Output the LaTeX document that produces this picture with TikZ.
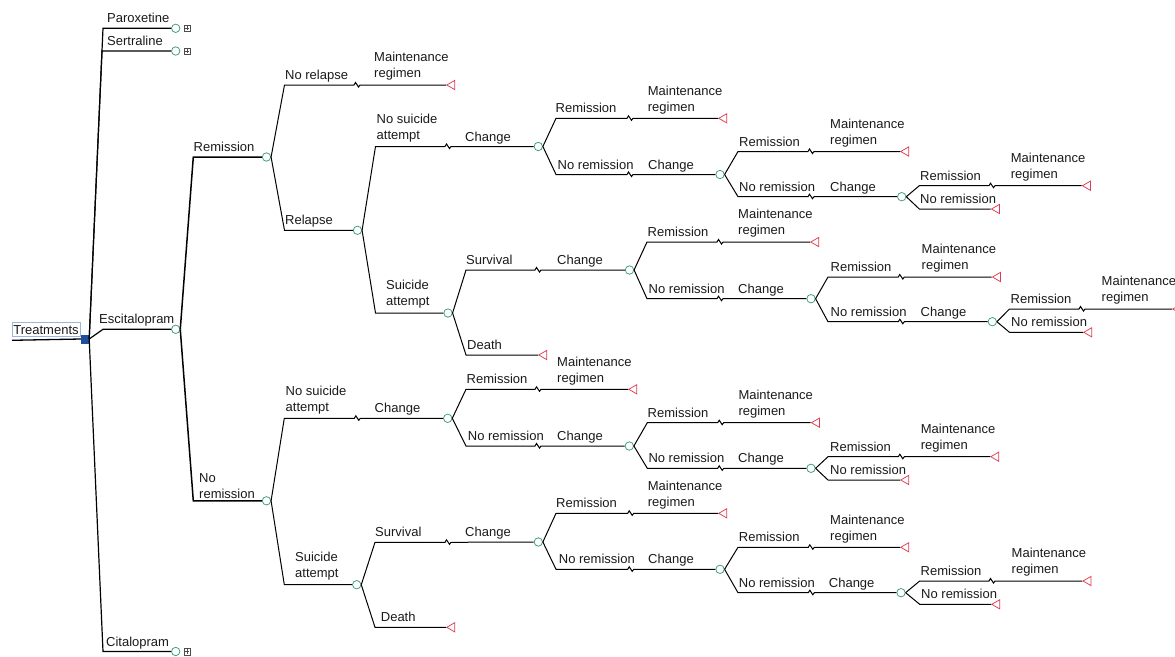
\documentclass[tikz,border=0pt]{standalone}
\usepackage{fontspec}
\setmainfont{Liberation Sans}
\usetikzlibrary{shapes.geometric}
\definecolor{chancec}{HTML}{3D9A7A}
\definecolor{termc}{HTML}{E03C50}
\definecolor{decc}{HTML}{1F4E9E}
\definecolor{tboxc}{HTML}{9AB5E0}
\definecolor{txtc}{HTML}{1A1A1A}
\newcommand\twol[2]{\begin{tabular}[b]{@{}l@{}}#1\\#2\end{tabular}}
\newcommand\brP[4]{\draw[conn] (#1.east) -- (#2,#3) -- (#4);}
\newcommand\brS[5]{\draw[conn] (#1.east) -- (#2,#3) -- ({#4-4},#3) -- ({#4-2.5},{#3-2.5}) -- ({#4+0.5},{#3+2}) -- ({#4+2},#3) -- (#5);}
\tikzset{
  conn/.style={line width=1pt, black},
  boldconn/.style={line width=1.5pt, black},
  trunk/.style={line width=1.2pt, black},
  chance/.style={circle, draw=chancec, fill=white, minimum size=8.4pt, inner sep=0pt, line width=0.75pt},
  term/.style={isosceles triangle, isosceles triangle apex angle=60, shape border rotate=180, draw=termc, fill=white, inner sep=0pt, minimum size=8pt, line width=0.75pt, anchor=apex},
  dec/.style={rectangle, fill=decc, draw=decc, minimum size=8pt, inner sep=0pt},
  plusb/.style={rectangle, draw=black!70, fill=white, minimum size=6.5pt, inner sep=0pt, line width=0.5pt,
    path picture={\draw[black!70, line width=0.5pt] ([xshift=1.2pt]path picture bounding box.west) -- ([xshift=-1.2pt]path picture bounding box.east) ([yshift=-1.2pt]path picture bounding box.north) -- ([yshift=1.2pt]path picture bounding box.south);}},
  lbl/.style={anchor=base west, inner sep=0pt, yshift=-1pt, text=txtc, font=\fontsize{13}{16}\selectfont},
  tbox/.style={rectangle, draw=tboxc, line width=0.7pt, inner xsep=1.5pt, inner ysep=0.5pt, minimum height=14pt, text=txtc, font=\fontsize{13}{16}\selectfont}
}
\begin{document}
\begin{tikzpicture}[x=1pt,y=-1pt]
\useasboundingbox (0,0) rectangle (1175,656);
\clip (0,0) rectangle (1175,656);
% root
\node[dec] (root) at (85,339) {};
\node[tbox] (treat) at (46,329.7) {Treatments};
\coordinate (ul) at (12,340.3);
\draw[line width=1.3pt] (ul) -- (root.west);
% treatments
\node[chance] (par) at (175.7,28.3) {};
\node[chance] (ser) at (175.7,51) {};
\node[chance] (esc) at (175.7,329.3) {};
\node[chance] (cit) at (175.7,651.5) {};
\node[plusb] (pp) at (187.2,28.3) {};
\node[plusb] (ps) at (187.2,51) {};
\node[plusb] (pc) at (187.2,651.5) {};
% chance nodes
\node[chance] (rem) at (266.5,157) {};
\node[chance] (nrem) at (266.5,500.8) {};
\node[chance] (rel) at (357.5,230.3) {};
\node[chance] (a1) at (538.3,146.5) {};
\node[chance] (sa1) at (448,313) {};
\node[chance] (a2) at (720,174.5) {};
\node[chance] (a3) at (901.7,196.7) {};
\node[chance] (b1) at (629.5,270) {};
\node[chance] (b2) at (811,298.7) {};
\node[chance] (b3) at (992.3,321.7) {};
\node[chance] (c1) at (447.7,418.3) {};
\node[chance] (sa2) at (356.7,584.7) {};
\node[chance] (c2) at (629.3,446) {};
\node[chance] (c3) at (811,468.3) {};
\node[chance] (d1) at (538.3,542) {};
\node[chance] (d2) at (720,569.3) {};
\node[chance] (d3) at (901,592.7) {};
% terminal nodes
\node[term] (t1) at (446,85) {};
\node[term] (t2) at (718,118.3) {};
\node[term] (t3) at (900,151.5) {};
\node[term] (t4) at (1081.7,185.7) {};
\node[term] (t5) at (990.7,209) {};
\node[term] (t6) at (538,355) {};
\node[term] (t7) at (810,242) {};
\node[term] (t8) at (991.7,277) {};
\node[term] (t9) at (1172,309) {};
\node[term] (t10) at (1083,332.3) {};
\node[term] (t11) at (628,389.3) {};
\node[term] (t12) at (810.7,422.7) {};
\node[term] (t13) at (990,456.7) {};
\node[term] (t14) at (900,480) {};
\node[term] (t15) at (446,627.3) {};
\node[term] (t16) at (718,513.3) {};
\node[term] (t17) at (900,547.3) {};
\node[term] (t18) at (1082.3,581) {};
\node[term] (t19) at (991,604.3) {};
% trunk connectors
\draw[trunk] (root.east) -- (103,28.3) -- (par);
\draw[trunk] (root.east) -- (102,51) -- (ser);
\draw[trunk] (root.east) -- (103,329.3) -- (esc);
\draw[trunk] (root.east) -- (103,651.5) -- (cit);
\draw[boldconn] (esc.east) -- (193.3,157) -- (rem);
\draw[boldconn] (esc.east) -- (193.3,500.8) -- (nrem);
% branches
\brS{rem}{284.5}{85}{358}{t1}
\brP{rem}{284.5}{230.3}{rel}
\brS{rel}{375.5}{146.5}{449}{a1}
\brP{rel}{375.5}{313}{sa1}
\brS{a1}{556}{118.3}{631}{t2}
\brS{a1}{556}{174.5}{631}{a2}
\brS{a2}{738}{151.5}{812}{t3}
\brS{a2}{738}{196.7}{812}{a3}
\brS{a3}{919.3}{185.7}{993}{t4}
\brP{a3}{919.3}{209}{t5}
\brS{sa1}{466}{270}{539}{b1}
\brP{sa1}{466}{355}{t6}
\brS{b1}{647}{242}{721}{t7}
\brS{b1}{647}{298.7}{721}{b2}
\brS{b2}{828}{277}{902.3}{t8}
\brS{b2}{828}{321.7}{902.3}{b3}
\brS{b3}{1009.5}{309}{1083}{t9}
\brP{b3}{1009.5}{332.3}{t10}
\brS{nrem}{284.3}{418.3}{358.3}{c1}
\brP{nrem}{284.3}{584.7}{sa2}
\brS{c1}{466}{389.3}{539}{t11}
\brS{c1}{466}{446}{539}{c2}
\brS{c2}{647.3}{422.7}{721.7}{t12}
\brS{c2}{647.3}{468.3}{721.7}{c3}
\brS{c3}{828}{456.7}{902.3}{t13}
\brP{c3}{828}{480}{t14}
\brS{sa2}{375}{542.3}{449}{d1}
\brP{sa2}{375}{627.3}{t15}
\brS{d1}{556}{513.3}{631.7}{t16}
\brS{d1}{556}{569.3}{631.7}{d2}
\brS{d2}{738}{547.3}{812.3}{t17}
\brS{d2}{738}{592.7}{812.3}{d3}
\brS{d3}{919.7}{581}{993}{t18}
\brP{d3}{919.7}{604.3}{t19}
% labels
\node[lbl] (lpar) at (107,21.8) {Paroxetine};
\node[lbl] (lser) at (107,44.5) {Sertraline};
\node[lbl] (lesc) at (99,322.8) {Escitalopram};
\node[lbl] (lcit) at (106,645) {Citalopram};
\node[lbl] (lrem) at (193.5,150.5) {Remission};
\node[lbl] (lnrem) at (199,497) {\twol{No}{remission}};
\node[lbl] (lnrel) at (285,78.5) {No relapse};
\node[lbl] (mr1) at (374,76.7) {\twol{Maintenance}{regimen}};
\node[lbl] (lrel) at (285,223.8) {Relapse};
\node[lbl] (lnsa1) at (376.5,138) {\twol{No suicide}{attempt}};
\node[lbl] (ch1) at (465,140) {Change};
\node[lbl] (lsa1) at (386,304.5) {\twol{Suicide}{attempt}};
\node[lbl] (la1r) at (555.5,111.8) {Remission};
\node[lbl] (mr2) at (647.7,110) {\twol{Maintenance}{regimen}};
\node[lbl] (la1n) at (557.5,168) {No remission};
\node[lbl] (ch2) at (648,168) {Change};
\node[lbl] (la2r) at (739,145) {Remission};
\node[lbl] (mr3) at (830,143.2) {\twol{Maintenance}{regimen}};
\node[lbl] (la2n) at (739,190.2) {No remission};
\node[lbl] (ch3) at (830,190.2) {Change};
\node[lbl] (la3r) at (920,179.2) {Remission};
\node[lbl] (mr4) at (1010.7,177.4) {\twol{Maintenance}{regimen}};
\node[lbl] (la3n) at (920,202.5) {No remission};
\node[lbl] (lsu1) at (466,263.5) {Survival};
\node[lbl] (ch4) at (557,263.5) {Change};
\node[lbl] (lde1) at (467,348.5) {Death};
\node[lbl] (lb1r) at (647.5,235.5) {Remission};
\node[lbl] (mr5) at (738,233.7) {\twol{Maintenance}{regimen}};
\node[lbl] (lb1n) at (648.5,292.2) {No remission};
\node[lbl] (ch5) at (738,292.2) {Change};
\node[lbl] (lb2r) at (830.5,270.5) {Remission};
\node[lbl] (mr6) at (921.5,268.7) {\twol{Maintenance}{regimen}};
\node[lbl] (lb2n) at (830.5,315.2) {No remission};
\node[lbl] (ch6) at (920.5,315.2) {Change};
\node[lbl] (lb3r) at (1010.5,302.5) {Remission};
\node[lbl] (mr7) at (1101.5,300.7) {\twol{Maintenance}{regimen}};
\node[lbl] (lb3n) at (1011,325.8) {No remission};
\node[lbl] (lnsa2) at (285.5,410) {\twol{No suicide}{attempt}};
\node[lbl] (ch7) at (374.5,411.8) {Change};
\node[lbl] (lsa2) at (295,576.2) {\twol{Suicide}{attempt}};
\node[lbl] (lc1r) at (466.5,382.8) {Remission};
\node[lbl] (mr8) at (557,381) {\twol{Maintenance}{regimen}};
\node[lbl] (lc1n) at (467.7,439.5) {No remission};
\node[lbl] (ch8) at (557,439.5) {Change};
\node[lbl] (lc2r) at (647.5,416.2) {Remission};
\node[lbl] (mr9) at (738.3,414.4) {\twol{Maintenance}{regimen}};
\node[lbl] (lc2n) at (648.3,461.8) {No remission};
\node[lbl] (ch9) at (738,461.8) {Change};
\node[lbl] (lc3r) at (830,450.2) {Remission};
\node[lbl] (mr10) at (920.7,448.4) {\twol{Maintenance}{regimen}};
\node[lbl] (lc3n) at (830,473.5) {No remission};
\node[lbl] (lsu2) at (375,535.8) {Survival};
\node[lbl] (ch10) at (465,535.8) {Change};
\node[lbl] (lde2) at (380.7,620.8) {Death};
\node[lbl] (ld1r) at (556,506.8) {Remission};
\node[lbl] (mr11) at (647.7,505) {\twol{Maintenance}{regimen}};
\node[lbl] (ld1n) at (558.7,562.8) {No remission};
\node[lbl] (ch11) at (648,562.8) {Change};
\node[lbl] (ld2r) at (738.7,540.8) {Remission};
\node[lbl] (mr12) at (830,539) {\twol{Maintenance}{regimen}};
\node[lbl] (ld2n) at (738.7,586.2) {No remission};
\node[lbl] (ch12) at (828.7,586.2) {Change};
\node[lbl] (ld3r) at (920.5,574.5) {Remission};
\node[lbl] (mr13) at (1011.5,572.7) {\twol{Maintenance}{regimen}};
\node[lbl] (ld3n) at (921,597.8) {No remission};
\end{tikzpicture}
\end{document}
